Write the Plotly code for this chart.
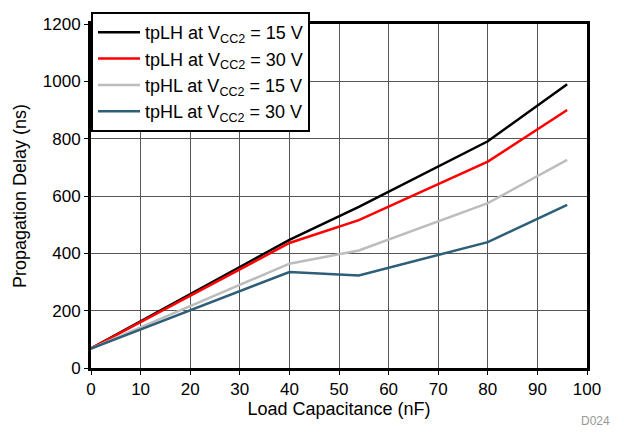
import plotly.graph_objects as go

# Load capacitance (nF) sample points
load_nf = [0, 40, 54, 80, 96]

# Propagation delay (ns) per condition
tplh_15v = [68, 447, 562, 791, 990]
tplh_30v = [68, 436, 516, 720, 900]
tphl_15v = [68, 364, 410, 575, 726]
tphl_30v = [68, 335, 323, 439, 569]

series = [
    ("tpLH at V<sub>CC2</sub> = 15 V", tplh_15v, "#000000"),
    ("tpLH at V<sub>CC2</sub> = 30 V", tplh_30v, "#ff0000"),
    ("tpHL at V<sub>CC2</sub> = 15 V", tphl_15v, "#bdbdbd"),
    ("tpHL at V<sub>CC2</sub> = 30 V", tphl_30v, "#2e5f78"),
]

x_ticks = list(range(0, 101, 10))
y_ticks = list(range(0, 1201, 200))

fig = go.Figure()
for name, vals, color in series:
    fig.add_trace(go.Scatter(x=load_nf, y=vals, mode="lines", name=name,
                             line=dict(color=color, width=2.5)))

font = "Liberation Sans, Arial, Helvetica, sans-serif"
fig.update_layout(
    width=624, height=433,
    margin=dict(l=91, r=37, t=15, b=65),
    paper_bgcolor="white", plot_bgcolor="white",
    font=dict(family=font, size=17, color="#000000"),
    showlegend=True,
    legend=dict(x=0, y=1.035, xanchor="left", yanchor="top",
                bgcolor="white", bordercolor="black", borderwidth=2,
                font=dict(size=18), tracegroupgap=0, itemwidth=42),
    xaxis=dict(range=[0, 100], tickvals=x_ticks, showgrid=True,
               gridcolor="#555555", gridwidth=1, zeroline=False,
               showline=True, linecolor="black", linewidth=3, mirror=True,
               ticks="outside", ticklen=4, tickcolor="black",
               tickfont=dict(size=17),
               title=dict(text="Load Capacitance (nF)", font=dict(size=18), standoff=4)),
    yaxis=dict(range=[0, 1200], tickvals=y_ticks, showgrid=True,
               gridcolor="#555555", gridwidth=1, zeroline=False,
               showline=True, linecolor="black", linewidth=3, mirror=True,
               ticks="outside", ticklen=4, tickcolor="black",
               tickfont=dict(size=17),
               title=dict(text="Propagation Delay (ns)", font=dict(size=18), standoff=12)),
    annotations=[dict(text="D024", x=1.0, y=0, xref="paper", yref="paper",
                      xanchor="left", yanchor="top", xshift=-8, yshift=-44,
                      showarrow=False, font=dict(size=12, color="#999999"))],
)

fig.write_html("out.html")
